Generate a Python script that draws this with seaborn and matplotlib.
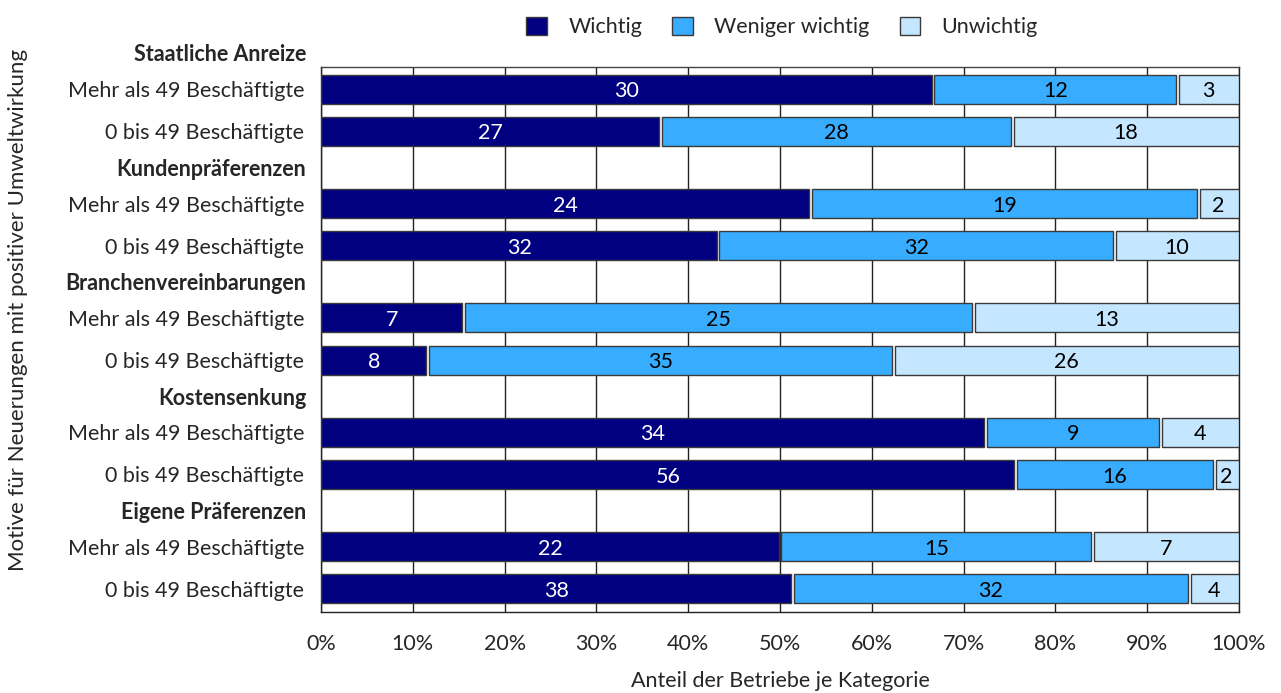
import matplotlib
import numpy as np
import pandas as pd
import seaborn as sns
from matplotlib import pyplot as plt
from matplotlib.patches import Patch

groups = ["Staatliche Anreize", "Kundenpräferenzen", "Branchenvereinbarungen",
          "Kostensenkung", "Eigene Präferenzen"]
sizes = ["Mehr als 49 Beschäftigte", "0 bis 49 Beschäftigte"]
categories = ["Wichtig", "Weniger wichtig", "Unwichtig"]

# counts per group: [Mehr als 49, 0 bis 49]
wichtig = [[30, 27], [24, 32], [7, 8], [34, 56], [22, 38]]
weniger = [[12, 28], [19, 32], [25, 35], [9, 16], [15, 32]]
unwichtig = [[3, 18], [2, 10], [13, 26], [4, 2], [7, 4]]

colors = ["#000080", "#38ADFF", "#C5E6FF"]
text_colors = ["white", "black", "black"]

# layout: rows within a group are 1 unit apart, groups are 114/42 units apart
group_step = 114 / 42
header_off = -34 / 42

rows = []
for g, grp in enumerate(groups):
    for s, size in enumerate(sizes):
        vals = [wichtig[g][s], weniger[g][s], unwichtig[g][s]]
        total = sum(vals)
        left = 0.0
        for c, cat in enumerate(categories):
            share = vals[c] / total * 100
            rows.append(dict(group=grp, size=size, cat=cat, count=vals[c],
                             share=share, left=left, pos=g * group_step + s))
            left += share
df = pd.DataFrame(rows)

sns.set_style("white")
plt.rcParams["font.family"] = ["Lato", "DejaVu Sans"]
fs = 15.5
plt.rcParams["font.size"] = fs

fig = plt.figure(figsize=(12.81, 6.93), dpi=100)
ax = fig.add_axes([321 / 1281, 1 - 612 / 693, 918 / 1281, 545 / 693])

gap = 0.16  # percent, small white gap between segments
for c, cat in enumerate(categories):
    sub = df[df["cat"] == cat]
    n_before = len(ax.patches)
    sns.barplot(data=sub, x="share", y="pos", orient="h", native_scale=True,
                color=colors[c], saturation=1, width=0.69, ax=ax,
                edgecolor="#3a3a3a", linewidth=1.0, errorbar=None)
    lefts = dict(zip(sub["pos"].round(4), sub["left"]))
    for p in ax.patches[n_before:]:
        yc = round(p.get_y() + p.get_height() / 2, 4)
        l = lefts[yc]
        w = p.get_width()
        p.set_x(l + (gap if l > 0 else 0))
        p.set_width(w - (gap if l > 0 else 0) - (gap if l + w < 99.9 else 0))
        p.set_zorder(3)
    for _, r in sub.iterrows():
        ax.text(r["left"] + r["share"] / 2, r["pos"] + 0.05, str(r["count"]),
                ha="center", va="center", color=text_colors[c], fontsize=fs, zorder=4)

ax.set_xlim(0, 100)
ax.set_ylim(4 * group_step + 1 + 23 / 42, -22 / 42)

ax.set_xticks(np.arange(0, 101, 10))
ax.set_xticklabels([f"{v}%" for v in range(0, 101, 10)])
ax.grid(axis="x", color="#222222", linewidth=1.0, zorder=0)
ax.set_axisbelow(True)

ypos = [g * group_step + s for g in range(len(groups)) for s in range(len(sizes))]
ax.set_yticks(ypos)
ax.set_yticklabels([sizes[s] for g in range(len(groups)) for s in range(len(sizes))])
ax.tick_params(axis="y", length=0, pad=12)
ax.tick_params(axis="x", length=3, color="#222222", pad=13)

trans = matplotlib.transforms.blended_transform_factory(ax.transAxes, ax.transData)
for g, grp in enumerate(groups):
    ax.text(-15 / 918, g * group_step + header_off, grp, transform=trans,
            ha="right", va="center", fontweight="bold", fontsize=fs, clip_on=False)

for sp in ["left", "bottom", "right", "top"]:
    ax.spines[sp].set_visible(True)
    ax.spines[sp].set_color("#222222")
    ax.spines[sp].set_linewidth(1.0)
ax.spines["top"].set_color("#444444")

ax.set_xlabel("Anteil der Betriebe je Kategorie", labelpad=12)
ax.set_ylabel("")
fig.text(18 / 1281, 1 - 310 / 693, "Motive für Neuerungen mit positiver Umweltwirkung",
         rotation=90, ha="center", va="center", fontsize=16)

handles = [Patch(facecolor=colors[c], edgecolor="#3a3a3a", linewidth=1.0) for c in range(3)]
fig.legend(handles, categories, loc="center", bbox_to_anchor=(782 / 1281, 1 - 27 / 693),
           ncol=3, frameon=False, handlelength=0.95, handleheight=0.95,
           handletextpad=1.0, columnspacing=1.4, fontsize=fs)

plt.savefig("out.png", dpi=100)
